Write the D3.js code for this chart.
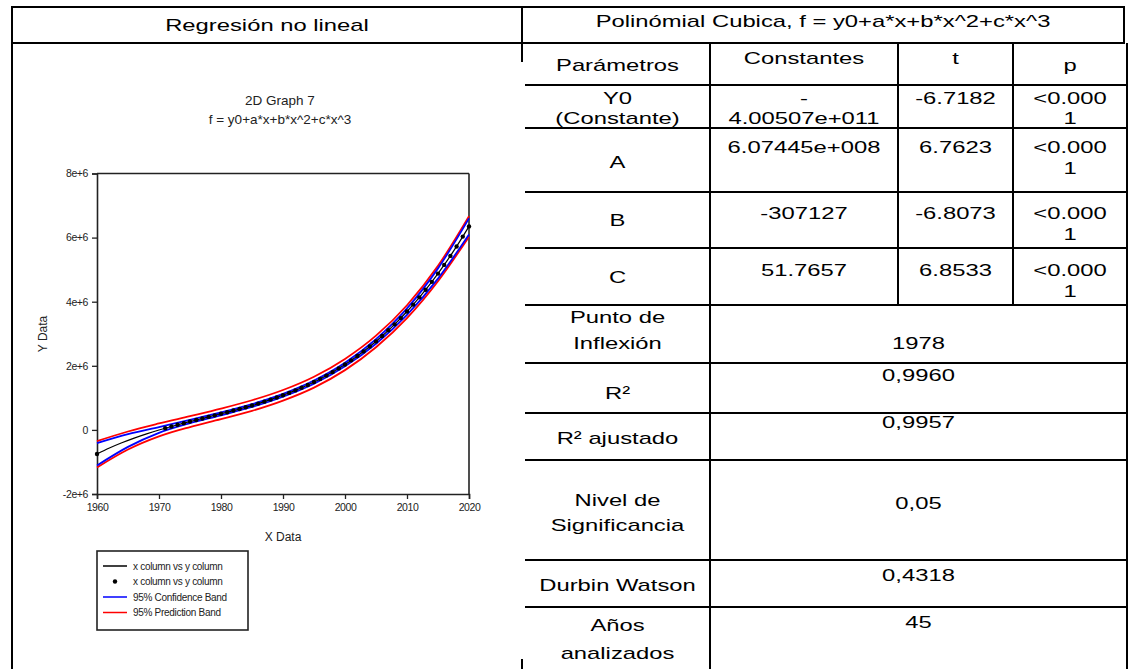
<!DOCTYPE html>
<html>
<head>
<meta charset="utf-8">
<script src="https://cdn.jsdelivr.net/npm/d3@7"></script>
<style>
body { margin: 0; background: #fff; }
text { font-family: "Liberation Sans", Arial, sans-serif; }
</style>
</head>
<body>
<div id="page"></div>
<script>
// fitted cubic (values in millions)
const fitYears = [1960, 1962, 1964, 1966, 1968, 1970, 1972, 1974, 1976, 1978, 1980, 1982, 1984, 1986, 1988, 1990,
    1992, 1994, 1996, 1998, 2000, 2002, 2004, 2006, 2008, 2010, 2012, 2014, 2016, 2018, 2020];
const fitValues = [-0.75, -0.567, -0.403, -0.256, -0.124, -0.004, 0.106, 0.21, 0.309, 0.405, 0.503, 0.603, 0.708, 0.821, 0.945, 1.081,
    1.232, 1.402, 1.591, 1.804, 2.041, 2.306, 2.602, 2.93, 3.293, 3.694, 4.135, 4.619, 5.148, 5.724, 6.35];

// observed points
const obsYears = [1960, 1971, 1972, 1973, 1974, 1975, 1976, 1977, 1978, 1979, 1980, 1981, 1982, 1983, 1984, 1985, 1986, 1987, 1988,
    1989, 1990, 1991, 1992, 1993, 1994, 1995, 1996, 1997, 1998, 1999, 2000, 2001, 2002, 2003, 2004, 2005, 2006, 2007, 2008,
    2009, 2010, 2011, 2012, 2013, 2014, 2015, 2016, 2017, 2018, 2019, 2020];
const obsValues = [-0.75, 0.052, 0.106, 0.159, 0.21, 0.26, 0.309, 0.357, 0.405, 0.454, 0.503, 0.552, 0.603, 0.654, 0.708, 0.763, 0.821, 0.881, 0.945,
    1.011, 1.081, 1.155, 1.232, 1.315, 1.402, 1.494, 1.591, 1.694, 1.804, 1.919, 2.041, 2.17, 2.306, 2.45, 2.602, 2.761, 2.93, 3.107, 3.293,
    3.488, 3.694, 3.909, 4.135, 4.371, 4.619, 4.877, 5.148, 5.429, 5.724, 6.031, 6.35];

// 95% bands
const bandYears = [1960, 1965, 1970, 1975, 1980, 1985, 1990, 1995, 2000, 2005, 2010, 2015, 2020];
const confUpper = [-0.41, -0.13, 0.09, 0.31, 0.545, 0.805, 1.125, 1.54, 2.095, 2.83, 3.79, 5.04, 6.6];
const confLower = [-1.11, -0.53, -0.09, 0.21, 0.455, 0.715, 1.035, 1.44, 1.985, 2.69, 3.59, 4.72, 6.1];
const predUpper = [-0.35, -0.05, 0.2, 0.43, 0.665, 0.925, 1.245, 1.66, 2.215, 2.94, 3.89, 5.12, 6.67];
const predLower = [-1.17, -0.61, -0.2, 0.09, 0.335, 0.595, 0.915, 1.32, 1.865, 2.58, 3.49, 4.64, 6.03];

const xTicks = [1960, 1970, 1980, 1990, 2000, 2010, 2020];
const yTicks = [-2, 0, 2, 4, 6, 8];
const legendLabels = ["x column vs y column", "x column vs y column", "95% Confidence Band", "95% Prediction Band"];

// table text
const headLeft = "Regresión no lineal";
const headRight = "Polinómial Cubica, f = y0+a*x+b*x^2+c*x^3";
const colHeads = ["Parámetros", "Constantes", "t", "p"];
const paramNames = [["Y0", "(Constante)"], ["A"], ["B"], ["C"]];
const paramConst = [["-", "4.00507e+011"], ["6.07445e+008"], ["-307127"], ["51.7657"]];
const paramT = ["-6.7182", "6.7623", "-6.8073", "6.8533"];
const paramP = [["<0.000", "1"], ["<0.000", "1"], ["<0.000", "1"], ["<0.000", "1"]];
const statLabels = [["Punto de", "Inflexión"], ["R²"], ["R² ajustado"], ["Nivel de", "Significancia"], ["Durbin Watson"], ["Años", "analizados"]];
const statValues = ["1978", "0,9960", "0,9957", "0,05", "0,4318", "45"];

const width = 1128, height = 669;
const svg = d3.select('#page').append('svg').attr('width', width).attr('height', height);

// ---------- table frame ----------
const rowY = [43, 85, 128, 192, 248, 305, 363, 413, 460, 560, 607, 669];
const colX = [525, 710, 898, 1013, 1127];

const grid = svg.append('g').attr('stroke', '#000').attr('stroke-width', 2);
function seg(x1, y1, x2, y2) {
    grid.append('line').attr('x1', x1).attr('y1', y1).attr('x2', x2).attr('y2', y2);
}
seg(11, 7, 1125, 7);
seg(12, 6, 12, 669);
seg(11, 43, 1125, 43);
seg(1124, 6, 1124, 43);
seg(522, 6, 522, 62);
seg(522, 659, 522, 669);
rowY.slice(1, -1).forEach(yy => seg(colX[0], yy, 1128, yy));
seg(colX[1], 43, colX[1], 669);
seg(colX[2], 43, colX[2], rowY[5]);
seg(colX[3], 43, colX[3], rowY[5]);
seg(colX[4], 43, colX[4], 669);

// table text is drawn wide, like the source document
function cellText(cx, by, str) {
    svg.append('text')
        .attr('transform', `translate(${cx},${by}) scale(1.4,1)`)
        .attr('text-anchor', 'middle')
        .attr('font-size', 17)
        .attr('fill', '#000')
        .text(str);
}
function cellLines(c0, c1, baselines, lines) {
    lines.forEach((s, i) => cellText((c0 + c1) / 2, baselines[i], s));
}

// baselines of each line (header row, 4 parameter rows, 6 statistic rows)
const labelBase = [[71], [104, 124], [168], [226], [283], [323, 349], [399], [444], [506, 531], [591], [631, 659]];
const constBase = [[64], [104, 124], [153], [219], [276]];
const tBase = [64, 104, 153, 219, 276];
const pBase = [[71], [104, 124], [153, 174], [219, 240], [276, 297]];
const statBase = [349, 381, 428, 509, 581, 628];

cellText(267, 31, headLeft);
cellText(823, 27, headRight);

cellLines(colX[0], colX[1], labelBase[0], [colHeads[0]]);
cellLines(colX[1], colX[2], constBase[0], [colHeads[1]]);
cellLines(colX[2], colX[3], [tBase[0]], [colHeads[2]]);
cellLines(colX[3], colX[4], pBase[0], [colHeads[3]]);

paramNames.forEach((nm, i) => {
    cellLines(colX[0], colX[1], labelBase[i + 1], nm);
    cellLines(colX[1], colX[2], constBase[i + 1], paramConst[i]);
    cellLines(colX[2], colX[3], [tBase[i + 1]], [paramT[i]]);
    cellLines(colX[3], colX[4], pBase[i + 1], paramP[i]);
});

statLabels.forEach((lb, i) => {
    cellLines(colX[0], colX[1], labelBase[i + 5], lb);
    cellLines(colX[1], colX[4], [statBase[i]], [statValues[i]]);
});

// ---------- chart ----------
const x = d3.scaleLinear().domain([1960, 2020]).range([97, 469]);
const y = d3.scaleLinear().domain([-2, 8]).range([494, 173.5]);

const chart = svg.append('g');

chart.append('text').attr('x', 280).attr('y', 105).attr('text-anchor', 'middle')
    .attr('font-size', 13.5).attr('fill', '#222').text("2D Graph 7");
chart.append('text').attr('x', 280).attr('y', 124).attr('text-anchor', 'middle')
    .attr('font-size', 13.5).attr('fill', '#222').text("f = y0+a*x+b*x^2+c*x^3");

const xAxis = chart.append('g').attr('transform', `translate(0,${y(-2)})`)
    .call(d3.axisBottom(x).tickValues(xTicks).tickSize(5).tickPadding(5).tickFormat(d3.format('d')));
const yAxis = chart.append('g').attr('transform', `translate(${x(1960)},0)`)
    .call(d3.axisLeft(y).tickValues(yTicks).tickSize(5).tickPadding(4)
        .tickFormat(d => d === 0 ? "0" : d + "e+6"));
[xAxis, yAxis].forEach(a => {
    a.selectAll('.domain').attr('stroke', '#222').attr('stroke-width', 1.6);
    a.selectAll('.tick line').attr('stroke', '#222').attr('stroke-width', 1.3);
    a.selectAll('.tick text').attr('font-size', 10.5).attr('fill', '#222').attr('letter-spacing', -0.4)
        .attr('font-family', '"Liberation Sans", Arial, sans-serif');
});
// frame top and right
chart.append('line').attr('x1', x(1960)).attr('x2', x(2020)).attr('y1', y(8)).attr('y2', y(8))
    .attr('stroke', '#222').attr('stroke-width', 1.6);
chart.append('line').attr('x1', x(2020)).attr('x2', x(2020)).attr('y1', y(8)).attr('y2', y(-2))
    .attr('stroke', '#222').attr('stroke-width', 1.6);

chart.append('text').attr('x', 283).attr('y', 541).attr('text-anchor', 'middle')
    .attr('font-size', 12).attr('fill', '#222').text("X Data");
chart.append('text').attr('transform', 'translate(47,334) rotate(-90)').attr('text-anchor', 'middle')
    .attr('font-size', 12).attr('fill', '#222').text("Y Data");

const line = d3.line().x(d => x(d[0])).y(d => y(d[1])).curve(d3.curveMonotoneX);
const bands = [
    [predUpper, '#ff0000'], [predLower, '#ff0000'],
    [confUpper, '#0000ff'], [confLower, '#0000ff']
];
bands.forEach(([vals, col]) => {
    chart.append('path').datum(bandYears.map((yr, i) => [yr, vals[i]]))
        .attr('d', line).attr('fill', 'none').attr('stroke', col).attr('stroke-width', 1.8);
});
chart.append('path').datum(fitYears.map((yr, i) => [yr, fitValues[i]]))
    .attr('d', line).attr('fill', 'none').attr('stroke', '#000').attr('stroke-width', 1.2);
chart.append('g').selectAll('circle').data(obsYears.map((yr, i) => [yr, obsValues[i]])).enter()
    .append('circle').attr('cx', d => x(d[0])).attr('cy', d => y(d[1])).attr('r', 2.2).attr('fill', '#000');

// legend
const lg = chart.append('g');
lg.append('rect').attr('x', 97).attr('y', 551).attr('width', 151).attr('height', 79)
    .attr('fill', '#fff').attr('stroke', '#222').attr('stroke-width', 1.6);
const legendStyle = [['line', '#000'], ['dot', '#000'], ['line', '#0000ff'], ['line', '#ff0000']];
legendLabels.forEach((lab, i) => {
    const ly = 566 + i * 15.5;
    if (legendStyle[i][0] === 'line') {
        lg.append('line').attr('x1', 103).attr('x2', 127).attr('y1', ly).attr('y2', ly)
            .attr('stroke', legendStyle[i][1]).attr('stroke-width', 1.5);
    } else {
        lg.append('circle').attr('cx', 115).attr('cy', ly).attr('r', 2.2).attr('fill', '#000');
    }
    lg.append('text').attr('x', 133).attr('y', ly + 3.5).attr('font-size', 10)
        .attr('letter-spacing', -0.3).attr('fill', '#222').text(lab);
});
</script>
</body>
</html>
